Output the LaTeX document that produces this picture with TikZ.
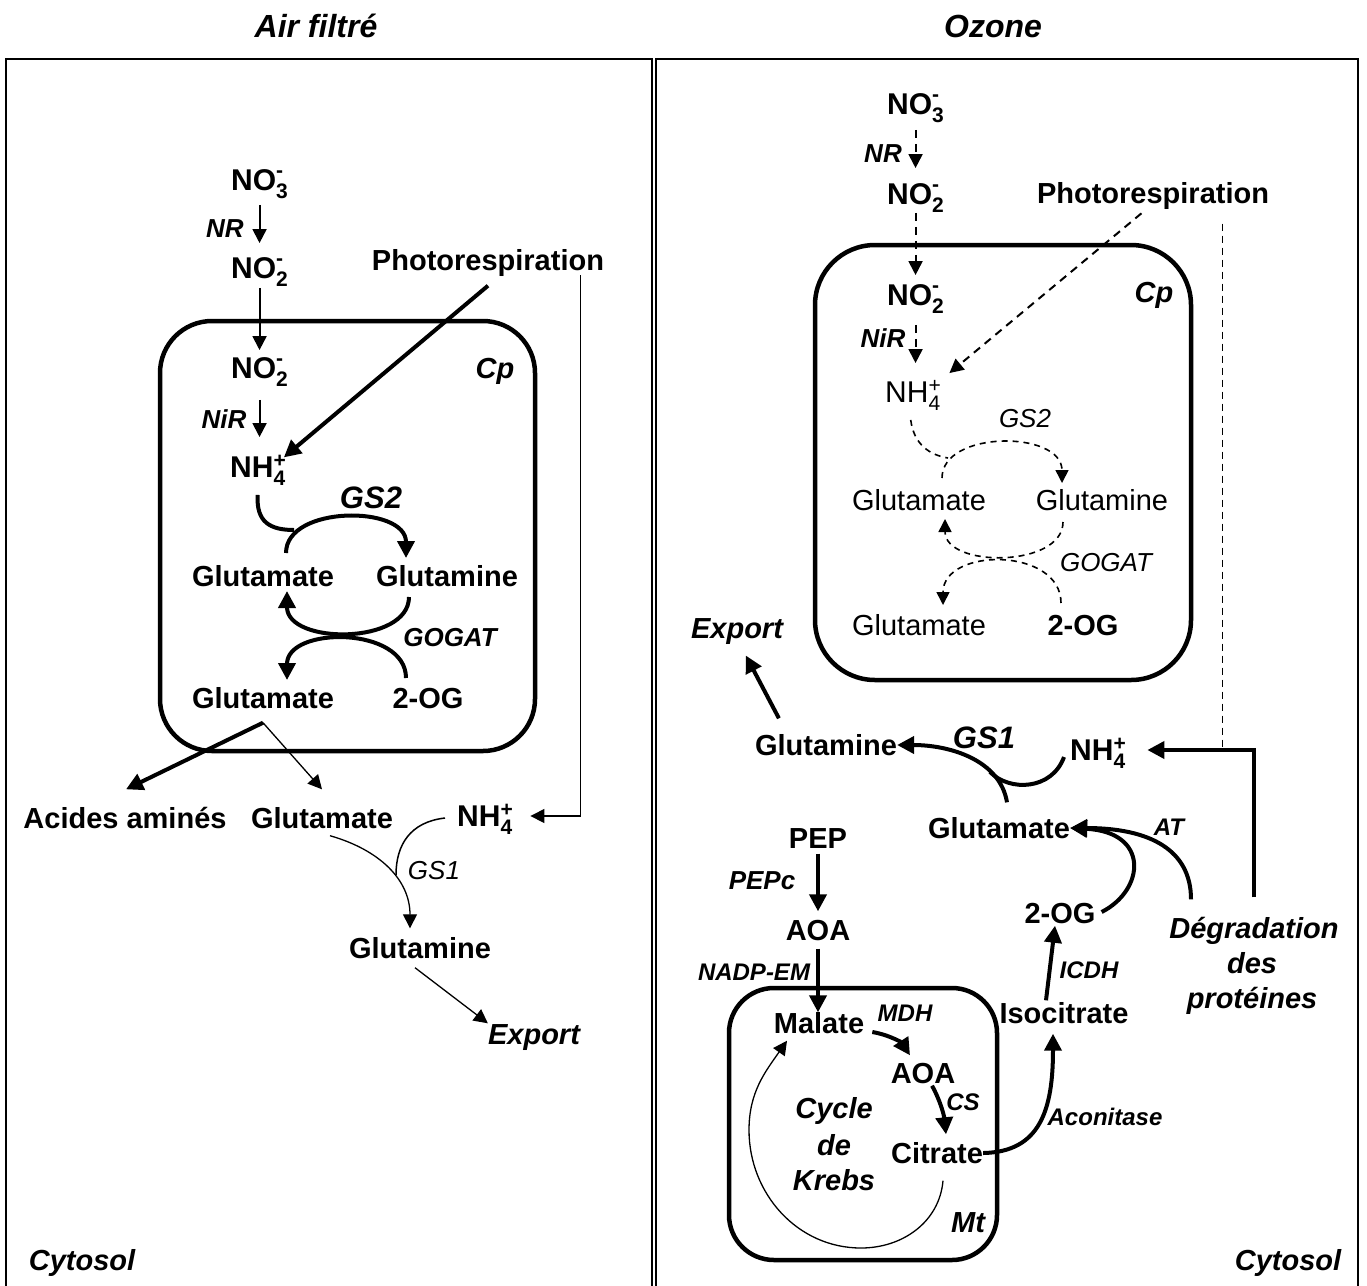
\documentclass[tikz,border=0pt]{standalone}
\usepackage{fontspec}
\setmainfont{Liberation Sans}
\usetikzlibrary{arrows.meta}
\usetikzlibrary{calc}

% ions: indice et exposant superposes
\newcommand{\anion}[2]{#1\rlap{\raisebox{13pt}{\fontsize{21}{21}\selectfont -}}\raisebox{-8pt}{\fontsize{21}{21}\selectfont #2}}
\newcommand{\cation}[2]{#1\rlap{\raisebox{10pt}{\fontsize{21}{21}\selectfont +}}\raisebox{-8pt}{\fontsize{21}{21}\selectfont #2}}

\begin{document}
\begin{tikzpicture}[
        x=1pt, y=-1pt,
        every node/.style={inner sep=0pt, text depth=0pt},
        fion/.style={font=\bfseries\fontsize{30}{36}\selectfont, text height=21.5pt},
        fionr/.style={font=\fontsize{30}{36}\selectfont, text height=21.5pt},
        fmet/.style={font=\bfseries\fontsize{29}{34}\selectfont, text height=21pt},
        fmetr/.style={font=\fontsize{29}{34}\selectfont, text height=21pt},
        fcomp/.style={font=\bfseries\itshape\fontsize{29}{34}\selectfont, text height=21pt},
        fgs/.style={font=\bfseries\itshape\fontsize{31}{36}\selectfont, text height=22pt},
        fenz/.style={font=\bfseries\itshape\fontsize{26}{30}\selectfont, text height=18.6pt},
        fenzr/.style={font=\itshape\fontsize{26}{30}\selectfont, text height=18.6pt},
        fsml/.style={font=\bfseries\itshape\fontsize{24}{28}\selectfont, text height=17.2pt},
        ftitle/.style={font=\bfseries\itshape\fontsize{32}{38}\selectfont, text height=23pt},
        frame/.style={line width=2.5pt},
        membrane/.style={line width=4.5pt, rounded corners=#1},
        arrthin/.style={line width=2pt, -{Triangle[length=14pt,width=14pt]}},
        arrfine/.style={line width=1.3pt, -{Triangle[length=14pt,width=14pt]}},
        curvfine/.style={line width=1.5pt},
        arrthick/.style={line width=4pt, -{Triangle[length=17pt,width=17pt]}},
        cycthick/.style={line width=4pt},
        arrdash/.style={line width=2pt, dash pattern=on 8pt off 6pt, -{Triangle[length=14pt,width=14pt]}},
        cycdash/.style={line width=1.6pt, dash pattern=on 6pt off 5pt},
        arrcycdash/.style={cycdash, -{Triangle[length=13pt,width=13pt]}},
        vdash/.style={line width=1.3pt, dash pattern=on 7pt off 5pt}
    ]

        \useasboundingbox (0,0) rectangle (1367,1285);

        % Cadres
        \draw[frame] (6,1300) -- (6,59) -- (652,59) -- (652,1300);
        \draw[frame] (656,1300) -- (656,59) -- (1358,59) -- (1358,1300);

        % Titres
        \node[ftitle] (titre1) at (316,26) {Air filtré};
        \node[ftitle] (titre2) at (993,26) {Ozone};

        % ---------------- Air filtré ----------------
        % Chloroplaste
        \draw[membrane=52pt] (160,321) rectangle (535,751);
        \node[fcomp] (cpl) at (495,368) {Cp};

        \node[fion, anchor=west] (no3l) at (231,180) {\anion{NO}{3}};
        \node[fenz] (nrl) at (225,228) {NR};
        \node[fion, anchor=west] (no2l) at (231,268) {\anion{NO}{2}};
        \node[fion, anchor=west] (no2li) at (231,368) {\anion{NO}{2}};
        \node[fenz] (nirl) at (224,419) {NiR};
        \node[fion, anchor=west] (nh4l) at (230,467) {\cation{NH}{4}};
        \node[fmet] (photol) at (488,260) {Photorespiration};

        \node[fgs] (gs2l) at (371,497) {GS2};
        \node[fmet] (glu1l) at (263,576) {Glutamate};
        \node[fmet] (glnl) at (447,576) {Glutamine};
        \node[fenz] (gogatl) at (450,637) {GOGAT};
        \node[fmet] (glu2l) at (263,698) {Glutamate};
        \node[fmet] (ogl) at (428,698) {2-OG};

        \node[fmet] (aal) at (125,818) {Acides aminés};
        \node[fmet] (glu3l) at (322,818) {Glutamate};
        \node[fion, anchor=west] (nh4lc) at (457,816) {\cation{NH}{4}};
        \node[fenzr] (gs1l) at (434,870) {GS1};
        \node[fmet] (glnlc) at (420,948) {Glutamine};
        \node[fcomp] (expl) at (534,1034) {Export};
        \node[fcomp] (cytl) at (82,1260) {Cytosol};

        % Réduction du nitrate
        \draw[arrthin, shorten <=14pt, shorten >=14pt] (no3l.south) -- (no2l.north);
        \draw[arrthin, shorten <=9pt, shorten >=7pt] (no2l.south) -- (no2li.north);
        \draw[arrthin, shorten <=21pt, shorten >=19pt] (no2li.south) -- (no2li.south |- nh4l.north);

        % Photorespiration
        \draw[arrthick, shorten >=-2pt] ([yshift=-15pt]photol.south) -- (nh4l.north east);
        \draw[arrfine, shorten >=18pt] ([xshift=-24pt,yshift=-15pt]photol.east) |- (nh4lc.east);

        % Cycle GS2/GOGAT
        \coordinate (gs2j) at (294,530);
        \coordinate (gs2a) at (286,553);
        \coordinate (gs2b) at (406,558);
        \coordinate (gog1a) at (409,597);
        \coordinate (gog1b) at (287,591);
        \coordinate (gog2a) at (406,678);
        \coordinate (gog2b) at (287,680);
        \draw[cycthick] ([yshift=-17pt]nh4l.south) .. controls (256,522) and (270,530) .. (gs2j);
        \draw[arrthick] (gs2a) .. controls (286,505) and (406,505) .. (gs2b);
        \draw[arrthick] (gog1a) .. controls (409,645) and (287,645) .. (gog1b);
        \draw[arrthick] (gog2a) .. controls (406,626) and (287,626) .. (gog2b);

        % Sortie du glutamate
        \coordinate (brl) at ([yshift=-14pt]glu2l.south);
        \draw[arrthick] (brl) -- ([xshift=1pt,yshift=18pt]aal.north);
        \draw[arrfine] (brl) -- ([yshift=18pt]glu3l.north);

        % GS1 cytosolique
        \coordinate (gs1m) at (396,875);
        \draw[curvfine] ([xshift=-12pt,yshift=-2pt]nh4lc.west) .. controls (410,822) and (396,845) .. (gs1m);
        \draw[arrfine] ([xshift=8pt,yshift=-7pt]glu3l.south) .. controls (380,850) and (410,880) .. ([xshift=-10pt,yshift=9pt]glnlc.north);
        \draw[arrfine] ([xshift=-5pt,yshift=-9pt]glnlc.south) -- (expl.north west);

        % ---------------- Ozone ----------------
        % Chloroplaste
        \draw[membrane=60pt] (815,245) rectangle (1191,680);
        \node[fcomp] (cpr) at (1154,292) {Cp};

        \node[fion, anchor=west] (no3r) at (887,104) {\anion{NO}{3}};
        \node[fenz] (nrr) at (883,153) {NR};
        \node[fion, anchor=west] (no2r) at (887,194) {\anion{NO}{2}};
        \node[fmet] (photor) at (1153,193) {Photorespiration};
        \node[fion, anchor=west] (no2ri) at (887,295) {\anion{NO}{2}};
        \node[fenz] (nirr) at (883,338) {NiR};
        \node[fionr, anchor=west] (nh4r) at (885,392) {\cation{NH}{4}};

        \node[fenzr] (gs2r) at (1025,418) {GS2};
        \node[fmetr] (glu1r) at (919,500) {Glutamate};
        \node[fmetr] (glnr) at (1102,500) {Glutamine};
        \node[fenzr] (gogatr) at (1106,562) {GOGAT};
        \node[fmetr] (glu2r) at (919,625) {Glutamate};
        \node[fmet] (ogr) at (1083,625) {2-OG};

        \node[fcomp] (expr) at (737,628) {Export};
        \node[fmet] (glnrc) at (826,745) {Glutamine};
        \node[fgs] (gs1r) at (984,737) {GS1};
        \node[fion, anchor=west] (nh4rc) at (1070,750) {\cation{NH}{4}};
        \node[fmet] (glurc) at (999,828) {Glutamate};
        \node[fsml] (atr) at (1169,827) {AT};
        \node[fmet] (pepr) at (818,838) {PEP};
        \node[fenz] (pepcr) at (762,880) {PEPc};
        \node[fmet] (aoar) at (818,930) {AOA};
        \node[fmet] (ogrc) at (1060,913) {2-OG};
        \node[fcomp] (deg1) at (1254,928) {Dégradation};
        \node[fcomp] (deg2) at (1252,963) {des};
        \node[fcomp] (deg3) at (1252,998) {protéines};
        \node[fsml] (nadpr) at (754,972) {NADP-EM};
        \node[fsml] (icdhr) at (1089,970) {ICDH};
        \node[fmet] (isor) at (1064,1013) {Isocitrate};

        % Mitochondrie
        \draw[membrane=45pt] (729,988) rectangle (997,1260);
        \node[fcomp] (mtr) at (968,1222) {Mt};
        \node[fmet] (malr) at (819,1023) {Malate};
        \node[fsml] (mdhr) at (905,1013) {MDH};
        \node[fmet] (aoamr) at (923,1073) {AOA};
        \node[fsml] (csr) at (963,1102) {CS};
        \node[fmet] (citr) at (937,1153) {Citrate};
        \node[fcomp] (cyc1) at (834,1108) {Cycle};
        \node[fcomp] (cyc2) at (834,1145) {de};
        \node[fcomp] (cyc3) at (834,1180) {Krebs};
        \node[fsml] (aconr) at (1105,1117) {Aconitase};
        \node[fcomp] (cytr) at (1288,1260) {Cytosol};

        % Réduction du nitrate
        \draw[arrdash, shorten <=15pt, shorten >=15pt] (no3r.south) -- (no2r.north);
        \draw[arrdash, shorten <=8pt, shorten >=9pt] (no2r.south) -- (no2ri.north);
        \draw[arrdash, shorten <=19pt, shorten >=18pt] (no2ri.south) -- (no2ri.south |- nh4r.north);

        % Photorespiration
        \draw[arrdash, shorten <=15pt] (photor.south) -- ([xshift=9pt,yshift=8pt]nh4r.north east);
        \coordinate (phv) at ([xshift=-47pt,yshift=-20pt]photor.south east);
        \draw[vdash] (phv) -- (phv |- nh4rc.east);

        % Cycle GS2/GOGAT
        \coordinate (gs2rj) at (948,458);
        \coordinate (gs2ra) at (942,478);
        \coordinate (gs2rb) at (1062,483);
        \coordinate (gog1ra) at (1063,522);
        \coordinate (gog1rb) at (945,519);
        \coordinate (gog2ra) at (1061,603);
        \coordinate (gog2rb) at (943,605);
        \draw[cycdash] ([xshift=-2pt,yshift=-17pt]nh4r.south) .. controls (914,445) and (930,455) .. (gs2rj);
        \draw[arrcycdash] (gs2ra) .. controls (942,430) and (1062,430) .. (gs2rb);
        \draw[arrcycdash] (gog1ra) .. controls (1063,568) and (945,568) .. (gog1rb);
        \draw[arrcycdash] (gog2ra) .. controls (1061,547) and (943,547) .. (gog2rb);

        % GS1 cytosolique et export
        \coordinate (gs1rm) at (990,772);
        \draw[arrthick] ([xshift=8pt,yshift=15pt]glurc.north) .. controls (1000,760) and (950,745) .. (glnrc.east);
        \draw[cycthick] ([xshift=-6pt,yshift=-7pt]nh4rc.west) .. controls (1052,790) and (1010,792) .. (gs1rm);
        \draw[arrthick, shorten >=19pt] ([xshift=24pt,yshift=16pt]glnrc.north west) -- (expr.south);

        % Dégradation des protéines
        \draw[arrthick, shorten >=22pt] ([yshift=20pt]deg1.north) |- (nh4rc.east);

        % Aminotransférases
        \draw[arrthick] ([xshift=6pt,yshift=1pt]ogrc.east) .. controls (1145,890) and (1150,832) .. (glurc.east);
        \draw[arrthick] ([xshift=-63pt,yshift=18pt]deg1.north) .. controls (1191,850) and (1150,828) .. (glurc.east);

        % PEP et cycle de Krebs
        \draw[arrthick, shorten <=5pt, shorten >=8pt] (pepr.south) -- (aoar.north);
        \draw[arrthick, shorten <=8pt] (aoar.south) -- (aoar.south |- malr.north);
        \draw[arrthick] ([xshift=8pt,yshift=-9pt]malr.east) .. controls (890,1035) and (902,1043) .. ([xshift=-13pt,yshift=7pt]aoamr.north);
        \draw[arrthick] ([xshift=9pt,yshift=-2pt]aoamr.south) .. controls (940,1100) and (944,1115) .. ([xshift=9pt,yshift=8pt]citr.north);
        \draw[arrthick] (citr.east) .. controls (1040,1152) and (1053,1110) .. ([xshift=-11pt,yshift=-10pt]isor.south);
        \draw[arrthick] ([xshift=-18pt,yshift=2pt]isor.north) -- ([xshift=-5pt,yshift=-2pt]ogrc.south);
        \draw[arrfine] ([xshift=6pt,yshift=-17pt]citr.south) to[out=-95,in=0] (861,1248) to[out=180,in=-90] (749,1130) to[out=90,in=-125] ([xshift=-32pt,yshift=-7pt]malr.south);

    \end{tikzpicture}
\end{document}
